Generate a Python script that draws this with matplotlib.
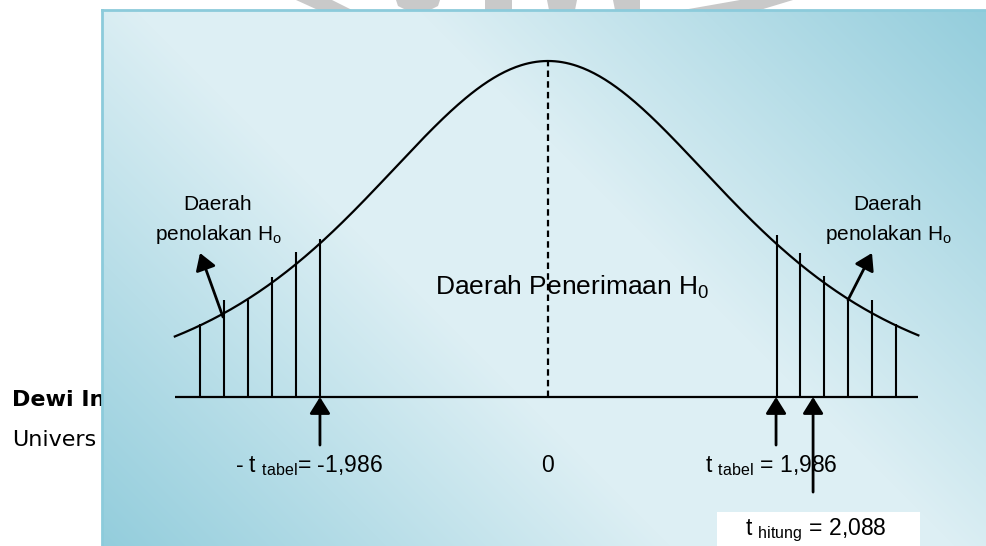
import numpy as np
import matplotlib.pyplot as plt
from matplotlib.patches import Polygon, Rectangle

plt.rcParams["font.family"] = ["Liberation Sans", "DejaVu Sans"]
plt.rcParams["mathtext.fontset"] = "custom"
plt.rcParams["mathtext.rm"] = "Liberation Sans"
plt.rcParams["mathtext.it"] = "Liberation Sans:italic"
plt.rcParams["mathtext.bf"] = "Liberation Sans:bold"

# =========================
# DATA
# =========================

T_TABEL = 1.986
T_HITUNG = 2.088
DF = 4  # degrees of freedom used for the sketched curve shape

# curve drawn between these schematic positions
curve_left, curve_right = -1.985, 1.97

# hatched rejection regions (schematic position, line top height)
left_hatch_x = [-1.851, -1.723, -1.596, -1.468, -1.340, -1.213]
left_hatch_top = [0.217, 0.289, 0.289, 0.357, 0.432, 0.470]
right_hatch_x = [1.218, 1.340, 1.468, 1.596, 1.723, 1.851]
right_hatch_top = [0.482, 0.429, 0.360, 0.289, 0.289, 0.217]

# arrows under the axis: -t tabel, t tabel, t hitung
arrow_x = [-1.213, 1.213, 1.410]
arrow_tail = [-0.143, -0.143, -0.283]

label_neg = "- t $_{\\mathrm{tabel}}$= -1,986"
label_zero = "0"
label_pos = "t $_{\\mathrm{tabel}}$ = 1,986"
label_hitung = "t $_{\\mathrm{hitung}}$ = 2,088"

# =========================
# LAYOUT HELPERS (pixel -> schematic units)
# =========================

X0, SX = 548, 188
Y0, SY = 397, 336


def ux(px):
    return (px - X0) / SX


def vy(py):
    return (Y0 - py) / SY


fig = plt.figure(figsize=(9.87, 5.46), dpi=100)

# page behind the figure box
bg = fig.add_axes([0, 0, 1, 1])
bg.set_xlim(0, 987)
bg.set_ylim(546, 0)
bg.axis("off")

watermark = [
    [(296, 0), (332, 0), (352, 10), (318, 10)],
    [(396, 0), (440, 0), (438, 6), (430, 10), (406, 10), (398, 6)],
    [(485, 0), (512, 0), (512, 10), (485, 10)],
    [(547, 0), (577, 0), (575, 10), (549, 10)],
    [(613, 0), (640, 0), (640, 10), (615, 10)],
    [(740, 0), (793, 0), (760, 10), (683, 10)],
]
for poly in watermark:
    bg.add_patch(Polygon(poly, closed=True, facecolor="#c9c9c9", lw=0))

bg.text(12, 406, "Dewi In", fontsize=16, fontweight="bold",
        family="DejaVu Sans", va="baseline")
bg.text(12, 446, "Univers", fontsize=16, family="DejaVu Sans", va="baseline")

# =========================
# FIGURE BOX WITH GRADIENT
# =========================

ax = fig.add_axes([102 / 987, 0, 885 / 987, 536 / 546])

W, H = 885, 536
xx, yy = np.meshgrid(np.arange(W) + 102, np.arange(H) + 10)
s = (xx + (546 - yy) - 102) / (987 + 536 - 102)
w = np.interp(s, [0, 0.4, 0.6, 1], [0, 1, 1, 0])
dark = np.array([147, 205, 220]) / 255
light = np.array([221, 239, 244]) / 255
img = dark + w[..., None] * (light - dark)
ax.imshow(img, extent=(ux(102), ux(987), vy(546), vy(10)), origin="upper",
          aspect="auto", zorder=0, interpolation="bilinear")
ax.set_xlim(ux(102), ux(987))
ax.set_ylim(vy(546), vy(10))
ax.set_xticks([])
ax.set_yticks([])
for side in ["right", "bottom"]:
    ax.spines[side].set_visible(False)
for side in ["top", "left"]:
    ax.spines[side].set_color("#8ccbdb")
    ax.spines[side].set_linewidth(2)

# curve
cx = np.linspace(curve_left, curve_right, 400)
cy = (1 + cx ** 2 / DF) ** (-(DF + 1) / 2)
ax.plot(cx, cy, color="black", lw=1.6, zorder=3)

# axis line and centre dashed line
ax.hlines(0, curve_left, curve_right, color="black", lw=1.6, zorder=3)
ax.vlines(0, 0, 1, color="black", lw=1.6, linestyles=(0, (2.9, 1.9)), zorder=3)

# hatches
ax.vlines(left_hatch_x, 0, left_hatch_top, color="black", lw=1.5, zorder=3)
ax.vlines(right_hatch_x, 0, right_hatch_top, color="black", lw=1.5, zorder=3)

# arrows to axis
for x, tail in zip(arrow_x, arrow_tail):
    ax.annotate("", xy=(x, 0), xytext=(x, tail),
                arrowprops=dict(arrowstyle="-|>,head_length=0.4,head_width=0.25",
                                mutation_scale=25, lw=2, color="black",
                                shrinkA=0, shrinkB=0), zorder=5)

# pointers to rejection areas
ax.annotate("", xy=(ux(200), vy(253)), xytext=(ux(223), vy(317)),
            arrowprops=dict(arrowstyle="-|>,head_length=0.4,head_width=0.25",
                            mutation_scale=25, lw=2, color="black",
                            shrinkA=0, shrinkB=0), zorder=5)
ax.annotate("", xy=(ux(872), vy(253)), xytext=(ux(848), vy(300)),
            arrowprops=dict(arrowstyle="-|>,head_length=0.4,head_width=0.25",
                            mutation_scale=25, lw=2, color="black",
                            shrinkA=0, shrinkB=0), zorder=5)

# texts
ax.text(ux(218), vy(210), "Daerah", fontsize=15, ha="center", va="baseline")
ax.text(ux(218), vy(240), "penolakan H$_\\mathrm{o}$", fontsize=15,
        ha="center", va="baseline")
ax.text(ux(888), vy(210), "Daerah", fontsize=15, ha="center", va="baseline")
ax.text(ux(888), vy(240), "penolakan H$_\\mathrm{o}$", fontsize=15,
        ha="center", va="baseline")
ax.text(ux(435), vy(295), "Daerah Penerimaan H$_0$", fontsize=19,
        ha="left", va="baseline")

ax.text(ux(235), vy(472), label_neg, fontsize=16.5, ha="left", va="baseline")
ax.text(0, vy(472), label_zero, fontsize=16.5, ha="center", va="baseline")
ax.text(ux(705), vy(472), label_pos, fontsize=16.5, ha="left", va="baseline")

ax.add_patch(Rectangle((ux(717), vy(546)), ux(920) - ux(717), vy(512) - vy(546),
                       facecolor="white", lw=0, zorder=4))
ax.text(ux(816), vy(535), label_hitung, fontsize=16.5, ha="center",
        va="baseline", zorder=6)

plt.savefig("out.png", dpi=100)
plt.close()
